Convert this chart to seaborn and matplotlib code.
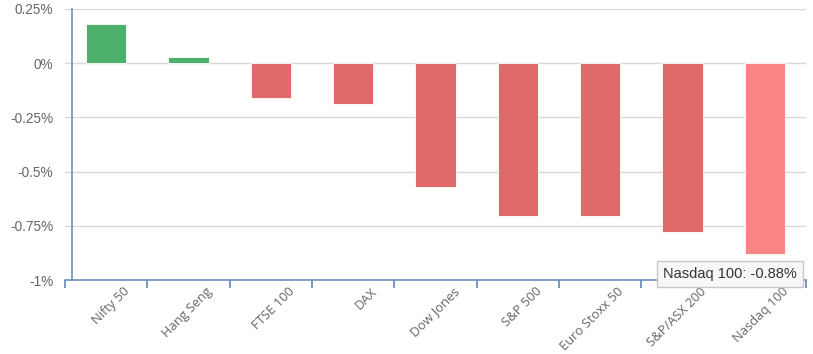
import numpy as np
import pandas as pd
import matplotlib
matplotlib.use("Agg")
import matplotlib.pyplot as plt
import matplotlib.transforms as mtrans
import seaborn as sns

indices = ["Nifty 50", "Hang Seng", "FTSE 100", "DAX", "Dow Jones",
           "S&P 500", "Euro Stoxx 50", "S&P/ASX 200", "Nasdaq 100"]
changes = [0.18, 0.03, -0.16, -0.19, -0.57, -0.705, -0.705, -0.78, -0.88]
highlight = "Nasdaq 100"
y_ticks = [0.25, 0, -0.25, -0.5, -0.75, -1]
y_tick_labels = ["0.25%", "0%", "-0.25%", "-0.5%", "-0.75%", "-1%"]

df = pd.DataFrame({"index": indices, "change": changes})
palette = []
for name, v in zip(indices, changes):
    if name == highlight:
        palette.append("#fa8585")
    elif v >= 0:
        palette.append("#4caf6b")
    else:
        palette.append("#e06a6a")

sns.set_style("white")
fig = plt.figure(figsize=(8.13, 3.54), dpi=100)
W, H = 813, 354
ax = fig.add_axes([65 / W, 1 - 280 / H, (806 - 65) / W, (280 - 9) / H])

sns.barplot(data=df, x="index", y="change", hue="index", palette=palette,
            width=0.49, legend=False, ax=ax, edgecolor="white", linewidth=0.6,
            saturation=1)

ax.set_xlim(-0.5, len(indices) - 0.5)
ax.set_ylim(-1, 0.25)
ax.set_xlabel("")
ax.set_ylabel("")

# grid
for y in y_ticks:
    ax.axhline(y, color="#d8d8d8", lw=1, zorder=0)

for s in ["top", "right"]:
    ax.spines[s].set_visible(False)
ax.spines["left"].set_position(("data", -0.5 + 7 / 82.3))
ax.spines["left"].set_color("#6d8fc0")
ax.spines["left"].set_linewidth(1.2)
ax.spines["bottom"].set_color("#6d8fc0")
ax.spines["bottom"].set_linewidth(1.2)

ax.set_yticks(y_ticks)
ax.set_yticklabels(y_tick_labels, fontsize=9.8, color="#666666",
                   family=["Liberation Sans", "DejaVu Sans"])
ax.tick_params(axis="y", length=0, pad=13.5)

# x ticks at category boundaries, labels at centres
ax.set_xticks(np.arange(len(indices) + 1) - 0.5)
ax.set_xticklabels([""] * (len(indices) + 1))
ax.tick_params(axis="x", which="major", bottom=True, length=6, width=1.3,
               color="#6d8fc0", direction="out")
ax.set_xticks(np.arange(len(indices)), minor=True)
ax.set_xticklabels(indices, minor=True, rotation=45, ha="right",
                   rotation_mode="anchor", fontsize=9.4, color="#666666",
                   family=["Open Sans", "DejaVu Sans"])
ax.tick_params(axis="x", which="minor", bottom=True, length=0, pad=3.5)
offset = mtrans.ScaledTranslation(17 / 100, 0, fig.dpi_scale_trans)
for lbl in ax.get_xticklabels(minor=True):
    lbl.set_transform(lbl.get_transform() + offset)

# tooltip
fig.text(730 / W, 1 - 274 / H, "Nasdaq 100: -0.88%", ha="center", va="center",
         fontsize=10.5, color="#333333", family=["Liberation Sans", "DejaVu Sans"],
         bbox=dict(boxstyle="square,pad=0.42", fc="#f7f7f7", ec="#c8c8c8", lw=1))

fig.savefig("out.png", dpi=100)
